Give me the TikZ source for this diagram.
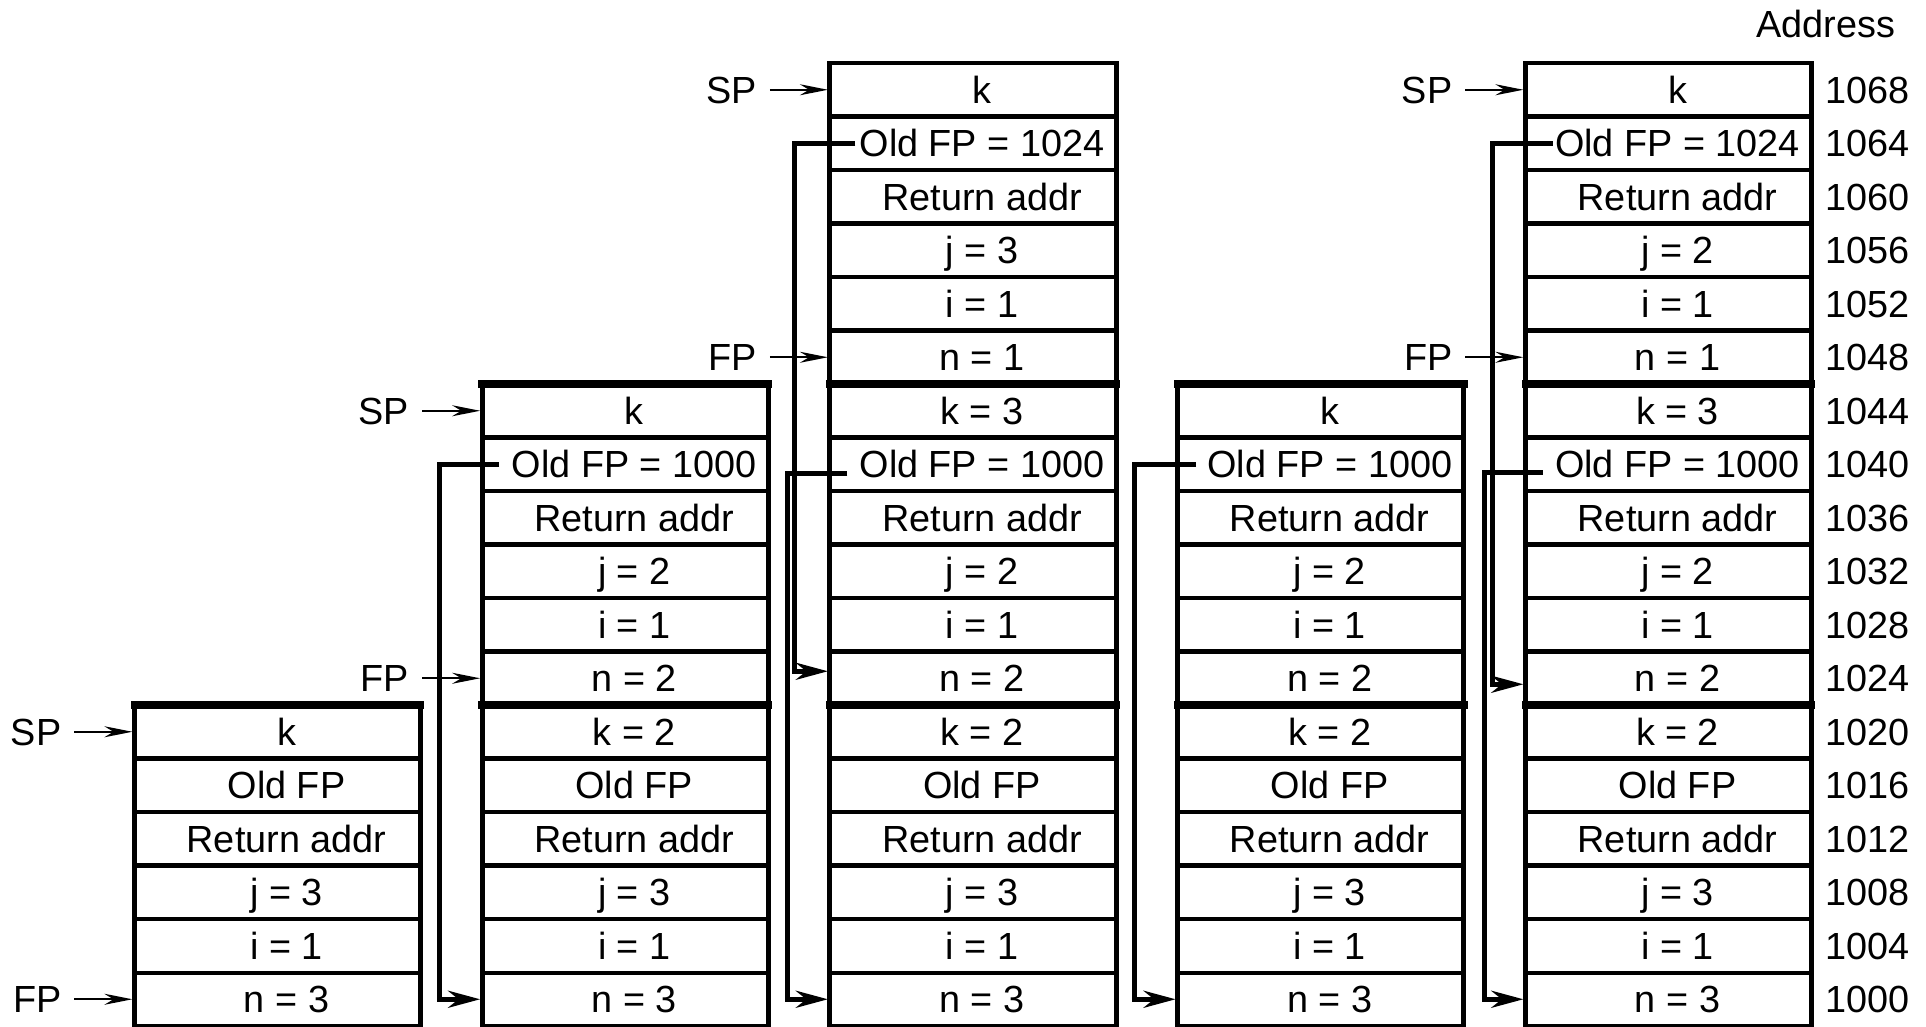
\documentclass[tikz,border=0pt]{standalone}
\usepackage{fontspec}
\setmainfont{Liberation Sans}
\usetikzlibrary{arrows.meta}

\begin{document}
\begin{tikzpicture}[
    x=0.01cm, y=-0.01cm,
    every node/.style={font=\fontsize{10.75}{12}\selectfont, text height=7.7pt, text depth=0pt},
    cell/.style={rectangle, draw=black, line width=1.14pt, minimum width=2.86cm, minimum height=0.535cm,
        inner sep=0pt, outer sep=0pt, execute at begin node=\hspace*{0.18cm}},
    outline/.style={line width=1.42pt},
    sep/.style={line width=2.13pt, line cap=rect},
    link/.style={-{Stealth[length=0.32cm, width=0.17cm]}, line width=1.42pt, shorten >=0.02cm},
    ptr/.style={-{Stealth[length=0.28cm, width=0.11cm]}, line width=0.6pt, shorten >=0.02cm},
    reg/.style={anchor=east, inner xsep=0.13cm, inner ysep=0pt, outer sep=0pt}
]
\useasboundingbox (0,0) rectangle (1926,1026);

% Stack snapshots, bottom row first
\foreach \t [count=\r from 0] in {n = 3, i = 1, j = 3, Return addr, Old FP, k}
  \node[cell] (s1-\r) at (277.5, {1026-(\r+0.5)*53.5}) {\t};
\foreach \t [count=\r from 0] in {n = 3, i = 1, j = 3, Return addr, Old FP, k = 2,
    n = 2, i = 1, j = 2, Return addr, Old FP = 1000, k}
  \node[cell] (s2-\r) at (625.25, {1026-(\r+0.5)*53.5}) {\t};
\foreach \t [count=\r from 0] in {n = 3, i = 1, j = 3, Return addr, Old FP, k = 2,
    n = 2, i = 1, j = 2, Return addr, Old FP = 1000, k = 3,
    n = 1, i = 1, j = 3, Return addr, Old FP = 1024, k}
  \node[cell] (s3-\r) at (973, {1026-(\r+0.5)*53.5}) {\t};
\foreach \t [count=\r from 0] in {n = 3, i = 1, j = 3, Return addr, Old FP, k = 2,
    n = 2, i = 1, j = 2, Return addr, Old FP = 1000, k}
  \node[cell] (s4-\r) at (1320.75, {1026-(\r+0.5)*53.5}) {\t};
\foreach \t [count=\r from 0] in {n = 3, i = 1, j = 3, Return addr, Old FP, k = 2,
    n = 2, i = 1, j = 2, Return addr, Old FP = 1000, k = 3,
    n = 1, i = 1, j = 2, Return addr, Old FP = 1024, k}
  \node[cell] (s5-\r) at (1668.5, {1026-(\r+0.5)*53.5}) {\t};

% Outlines and frame boundaries
\draw[outline] (s1-0.south west) rectangle (s1-5.north east);
\draw[outline] (s2-0.south west) rectangle (s2-11.north east);
\draw[outline] (s3-0.south west) rectangle (s3-17.north east);
\draw[outline] (s4-0.south west) rectangle (s4-11.north east);
\draw[outline] (s5-0.south west) rectangle (s5-17.north east);
\foreach \c in {1,...,5}
  \draw[sep] (s\c-5.north west) -- (s\c-5.north east);
\foreach \c in {2,...,5}
  \draw[sep] (s\c-11.north west) -- (s\c-11.north east);

% Addresses
\node (addrhead) at (1826, 23.5) {Address};
\foreach \r in {0,...,17} {
  \pgfmathtruncatemacro\adr{1000+4*\r}
  \node (adr-\r) at (1867.5, {1026-(\r+0.5)*53.5}) {\adr};
}

% Old FP links
\draw[link] ([xshift=0.17cm]s2-10.west) -| ([xshift=-0.425cm]s2-0.west) -- (s2-0.west);
\draw[link] ([xshift=0.255cm]s3-16.west) -| ([xshift=-0.35cm, yshift=0.07cm]s3-6.west) -- ([yshift=0.07cm]s3-6.west);
\draw[link] ([xshift=0.175cm, yshift=-0.09cm]s3-10.west) -| ([xshift=-0.425cm]s3-0.west) -- (s3-0.west);
\draw[link] ([xshift=0.185cm]s4-10.west) -| ([xshift=-0.43cm]s4-0.west) -- (s4-0.west);
\draw[link] ([xshift=0.275cm]s5-16.west) -| ([xshift=-0.33cm, yshift=-0.06cm]s5-6.west) -- ([yshift=-0.06cm]s5-6.west);
\draw[link] ([xshift=0.175cm, yshift=-0.08cm]s5-10.west) -| ([xshift=-0.41cm]s5-0.west) -- (s5-0.west);

% SP and FP
\node[reg] (sp1) at ([xshift=-0.6cm]s1-5.west) {SP};
\node[reg] (fp1) at ([xshift=-0.6cm]s1-0.west) {FP};
\node[reg] (sp2) at ([xshift=-0.6cm]s2-11.west) {SP};
\node[reg] (fp2) at ([xshift=-0.6cm]s2-6.west) {FP};
\node[reg] (sp3) at ([xshift=-0.6cm]s3-17.west) {SP};
\node[reg] (fp3) at ([xshift=-0.6cm]s3-12.west) {FP};
\node[reg] (sp5) at ([xshift=-0.6cm]s5-17.west) {SP};
\node[reg] (fp5) at ([xshift=-0.6cm]s5-12.west) {FP};
\draw[ptr] (sp1) -- (s1-5);
\draw[ptr] (fp1) -- (s1-0);
\draw[ptr] (sp2) -- (s2-11);
\draw[ptr] (fp2) -- (s2-6);
\draw[ptr] (sp3) -- (s3-17);
\draw[ptr] (fp3) -- (s3-12);
\draw[ptr] (sp5) -- (s5-17);
\draw[ptr] (fp5) -- (s5-12);

\end{tikzpicture}
\end{document}
